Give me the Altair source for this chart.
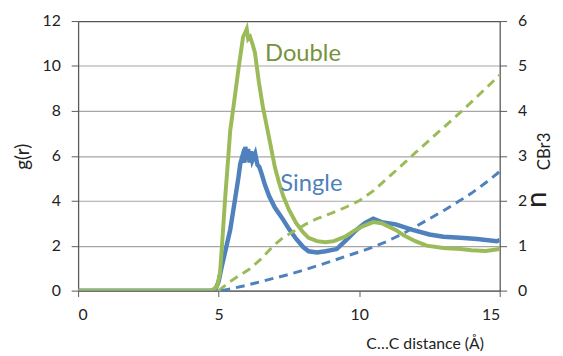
import altair as alt
import pandas as pd

# g(r) for the "Double" system (left axis)
x_gd = [0, 4.7, 4.8, 4.95, 5.05, 5.13, 5.23, 5.34, 5.41, 5.55, 5.72, 5.87, 5.95, 6.0, 6.05, 6.12, 6.2,
        6.29, 6.43, 6.57, 6.78, 7.0, 7.15, 7.3, 7.5, 7.76, 8.0, 8.2, 8.5, 8.8, 9.1, 9.5, 9.8, 10.1,
        10.5, 10.8, 11.3, 11.6, 12.0, 12.4, 13.0, 13.6, 14.0, 14.5, 15.0]
g_double = [0, 0, 0.05, 0.2, 0.8, 2.2, 4.1, 5.9, 7.1, 8.4, 10.0, 11.3, 11.5, 11.65, 11.2, 11.3, 11.0,
            10.6, 9.3, 8.2, 6.9, 5.5, 4.8, 4.2, 3.6, 3.0, 2.6, 2.35, 2.2, 2.15, 2.2, 2.4, 2.65, 2.85,
            3.05, 3.0, 2.7, 2.45, 2.2, 2.0, 1.9, 1.85, 1.8, 1.76, 1.85]

# g(r) for the "Single" system (left axis)
x_gs = [0, 4.8, 4.9, 5.0, 5.1, 5.2, 5.3, 5.41, 5.5, 5.6, 5.7, 5.77, 5.85, 5.92, 5.95, 6.0, 6.05, 6.1,
        6.15, 6.2, 6.3, 6.38, 6.45, 6.53, 6.65, 6.8, 7.0, 7.3, 7.5, 7.76, 8.0, 8.2, 8.5, 8.8, 9.2,
        9.5, 9.9, 10.2, 10.5, 10.8, 11.3, 11.9, 12.5, 13.0, 13.6, 14.2, 14.9, 15.0]
g_single = [0, 0, 0.1, 0.4, 1.0, 1.55, 2.1, 2.7, 3.4, 4.2, 5.0, 5.65, 6.0, 5.7, 6.4, 5.8, 6.3, 5.7,
            6.2, 5.8, 6.1, 5.6, 5.5, 5.2, 4.7, 4.2, 3.7, 3.15, 2.75, 2.3, 1.95, 1.75, 1.7, 1.75, 1.85,
            2.2, 2.7, 3.0, 3.2, 3.05, 2.95, 2.7, 2.5, 2.4, 2.35, 2.3, 2.2, 2.25]

# running coordination number n_CBr3 (right axis)
x_nd = [5.0, 5.4, 6.1, 6.5, 6.95, 7.3, 7.76, 8.1, 8.5, 9.0, 9.5, 10.0, 10.5, 11.0, 11.5, 12.0,
        12.5, 13.0, 13.5, 14.0, 14.5, 15.0]
n_double = [0, 0.2, 0.48, 0.7, 1.0, 1.18, 1.35, 1.48, 1.6, 1.72, 1.85, 2.0, 2.22, 2.5, 2.78, 3.07,
            3.35, 3.63, 3.91, 4.2, 4.5, 4.8]
x_ns = [5.1, 5.5, 6.0, 6.5, 7.0, 7.5, 8.0, 8.5, 9.0, 9.5, 10.0, 10.5, 11.0, 11.5, 12.0, 12.5, 13.0,
        13.5, 14.0, 14.5, 15.0]
n_single = [0, 0.05, 0.12, 0.2, 0.28, 0.36, 0.45, 0.55, 0.65, 0.76, 0.86, 0.97, 1.1, 1.25, 1.42,
            1.6, 1.78, 1.97, 2.17, 2.4, 2.65]

labels = ["Double", "Single"]
label_x = [8.0, 8.3]
label_y = [10.55, 4.75]

x_ticks = [0, 5, 10, 15]
g_ticks = [0, 2, 4, 6, 8, 10, 12]
n_ticks = [0, 1, 2, 3, 4, 5, 6]

GREEN = "#9BBB59"
GREEN_TXT = "#77933C"
BLUE = "#4F81BD"
FONT = "Lato"
AX = "#595959"

xscale = alt.Scale(domain=[0, 15], nice=False)
xaxis = alt.Axis(values=x_ticks, title="C…C distance (Å)", grid=False, domainColor=AX,
                 domainWidth=1.3, tickColor=AX, tickSize=6, labelPadding=10, labelFontSize=16,
                 labelFont=FONT, labelColor="#222", titleFont=FONT, titleFontSize=16,
                 titleFontWeight="normal", titleColor="#222", titleX=351, titleY=54,
                 titleAlign="center", titleBaseline="middle")
gscale = alt.Scale(domain=[0, 12], nice=False)
gaxis = alt.Axis(values=g_ticks, title="g(r)", orient="left",
                 gridColor=alt.condition("datum.value == 12", alt.value("#555555"), alt.value("#A6A6A6")),
                 gridWidth=1.2, domainColor=AX, domainWidth=1.3, tickColor=AX, tickSize=7,
                 labelPadding=11, labelFontSize=16, labelFont=FONT, labelColor="#222",
                 titleFont=FONT, titleFontSize=19, titleFontWeight="normal", titleColor="#222",
                 titleX=-56, titleY=137, titleAngle=270, titleAlign="center", titleBaseline="middle")
nscale = alt.Scale(domain=[0, 6], nice=False)
naxis = alt.Axis(values=n_ticks, title=None, orient="right", grid=False, domainColor=AX,
                 domainWidth=1.3, tickColor=AX, tickSize=7, labelPadding=11, labelFontSize=16,
                 labelFont=FONT, labelColor="#222")

df_gd = pd.DataFrame({"x": x_gd, "y": g_double})
df_gs = pd.DataFrame({"x": x_gs, "y": g_single})
df_nd = pd.DataFrame({"x": x_nd, "y": n_double})
df_ns = pd.DataFrame({"x": x_ns, "y": n_single})
df_lab = pd.DataFrame({"x": label_x, "y": label_y, "t": labels, "c": [GREEN_TXT, BLUE]})

ls = alt.Chart(df_gs).mark_line(color=BLUE, strokeWidth=4.5, clip=True).encode(
    x=alt.X("x:Q", scale=xscale, axis=xaxis), y=alt.Y("y:Q", scale=gscale, axis=gaxis))
ld = alt.Chart(df_gd).mark_line(color=GREEN, strokeWidth=4, clip=True).encode(
    x=alt.X("x:Q", scale=xscale), y=alt.Y("y:Q", scale=gscale))
lab = alt.Chart(df_lab).mark_text(fontSize=24, font=FONT, align="center", baseline="middle").encode(
    x=alt.X("x:Q", scale=xscale), y=alt.Y("y:Q", scale=gscale), text="t:N",
    color=alt.Color("c:N", scale=None))
left = alt.layer(ls, ld, lab)

nd = alt.Chart(df_nd).mark_line(color=GREEN, strokeWidth=3, strokeDash=[9, 6]).encode(
    x=alt.X("x:Q", scale=xscale), y=alt.Y("y:Q", scale=nscale, axis=naxis))
ns = alt.Chart(df_ns).mark_line(color=BLUE, strokeWidth=3, strokeDash=[9, 6]).encode(
    x=alt.X("x:Q", scale=xscale), y=alt.Y("y:Q", scale=nscale))
right = alt.layer(nd, ns)

t_n = alt.Chart(pd.DataFrame({"t": ["n"]})).mark_text(
    fontSize=30, font=FONT, angle=270, align="center", baseline="middle", color="#222").encode(
    x=alt.value(465), y=alt.value(181), text="t:N")
t_sub = alt.Chart(pd.DataFrame({"t": ["CBr3"]})).mark_text(
    fontSize=17, font=FONT, angle=270, align="center", baseline="middle", color="#222").encode(
    x=alt.value(473), y=alt.value(132), text="t:N")

chart = alt.layer(left, right, t_n, t_sub).resolve_scale(y="independent").properties(
    width=427, height=273, autosize="none",
    padding={"left": 71, "top": 11, "right": 56, "bottom": 64}
).configure_view(stroke=None)

chart.save("out.html", embed_options={"renderer": "svg", "actions": False})
